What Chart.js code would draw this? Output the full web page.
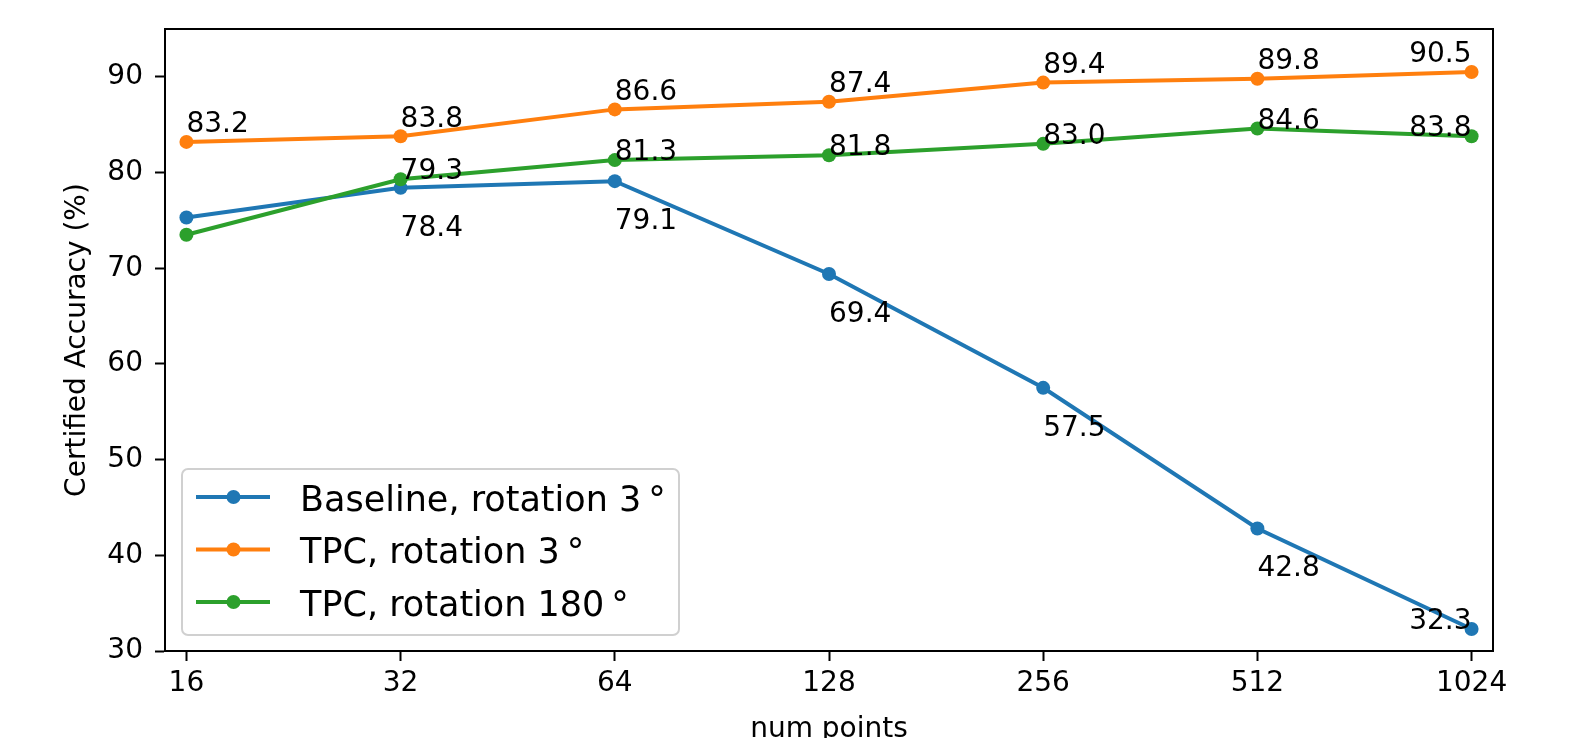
<!DOCTYPE html>
<html>
<head>
<meta charset="utf-8">
<script src="https://cdn.jsdelivr.net/npm/chart.js@4"></script>
<style>
  html, body { margin: 0; padding: 0; background: #fff; }
  canvas { display: block; }
</style>
</head>
<body>
<canvas id="chart" width="1570" height="738"></canvas>
<script>
// data
const numPoints = [16, 32, 64, 128, 256, 512, 1024];
const baselineRot3 = [75.3, 78.4, 79.1, 69.4, 57.5, 42.8, 32.3];
const tpcRot3 = [83.2, 83.8, 86.6, 87.4, 89.4, 89.8, 90.5];
const tpcRot180 = [73.5, 79.3, 81.3, 81.8, 83.0, 84.6, 83.8];
const seriesNames = ['Baseline, rotation 3\u2009°', 'TPC, rotation 3\u2009°', 'TPC, rotation 180\u2009°'];
const yTicks = [30, 40, 50, 60, 70, 80, 90];

const FONT = '"DejaVu Sans", sans-serif';
Chart.defaults.color = '#000';
Chart.defaults.font.family = FONT;

function series(label, data, color, order, labelDy, skipFirst) {
    return {
        label, data, order,
        borderColor: color,
        backgroundColor: color,
        borderWidth: 4,
        pointRadius: 7,
        pointBorderWidth: 0,
        pointHoverRadius: 7,
        tension: 0,
        labelDy, skipFirst
    };
}

// value labels next to the points
const pointLabels = {
    id: 'pointLabels',
    afterDatasetsDraw(chart) {
        const ctx = chart.ctx;
        const yScale = chart.scales.y;
        ctx.save();
        ctx.font = '28px ' + FONT;
        ctx.fillStyle = '#000';
        ctx.textBaseline = 'alphabetic';
        chart.data.datasets.forEach((ds, i) => {
            const meta = chart.getDatasetMeta(i);
            meta.data.forEach((pt, j) => {
                if (j === 0 && ds.skipFirst) return;
                const last = j === ds.data.length - 1;
                let dy = ds.labelDy;
                if (last && ds.data[j] + dy < yScale.min) dy = 0;
                ctx.textAlign = last ? 'right' : 'left';
                ctx.fillText(ds.data[j].toFixed(1), pt.x, yScale.getPixelForValue(ds.data[j] + dy));
            });
        });
        ctx.restore();
    },
    afterDraw(chart) {
        const ctx = chart.ctx;
        const a = chart.chartArea;
        ctx.save();
        // top + right spines
        ctx.strokeStyle = '#000';
        ctx.lineWidth = 2;
        ctx.beginPath();
        ctx.moveTo(a.left, a.top);
        ctx.lineTo(a.right, a.top);
        ctx.lineTo(a.right, a.bottom);
        ctx.stroke();

        // legend, lower left
        const x = a.left + 17, h = 166, y = a.bottom - 16 - h, w = 497;
        ctx.beginPath();
        ctx.roundRect(x, y, w, h, 6);
        ctx.fillStyle = 'rgba(255,255,255,0.8)';
        ctx.fill();
        ctx.strokeStyle = '#d0d0d0';
        ctx.lineWidth = 2;
        ctx.stroke();
        ctx.font = '35px ' + FONT;
        ctx.textAlign = 'left';
        ctx.textBaseline = 'alphabetic';
        chart.data.datasets.forEach((ds, i) => {
            const ry = y + 28 + i * 52.5;
            ctx.strokeStyle = ds.borderColor;
            ctx.lineWidth = 4;
            ctx.beginPath();
            ctx.moveTo(x + 14, ry);
            ctx.lineTo(x + 88, ry);
            ctx.stroke();
            ctx.fillStyle = ds.borderColor;
            ctx.beginPath();
            ctx.arc(x + 51.5, ry, 7, 0, Math.PI * 2);
            ctx.fill();
            ctx.fillStyle = '#000';
            ctx.fillText(ds.label, x + 118, ry + 13.5);
        });
        ctx.restore();
    }
};

new Chart(document.getElementById('chart'), {
    type: 'line',
    data: {
        labels: numPoints,
        datasets: [
            series(seriesNames[0], baselineRot3, '#1f77b4', 2, -5, true),
            series(seriesNames[1], tpcRot3, '#ff7f0e', 1, 1, false),
            series(seriesNames[2], tpcRot180, '#2ca02c', 0, 0, true)
        ]
    },
    options: {
        responsive: false,
        animation: false,
        events: [],
        layout: { padding: { left: 0, right: 77, top: 29, bottom: 0 } },
        plugins: { legend: { display: false }, tooltip: { enabled: false } },
        scales: {
            x: {
                type: 'logarithmic',
                bounds: 'data',
                min: 16 * Math.pow(2, -0.1),
                max: 1024 * Math.pow(2, 0.1),
                afterBuildTicks: s => { s.ticks = numPoints.map(v => ({ value: v })); },
                afterFit: s => { s.height = 87; },
                ticks: {
                    autoSkip: false,
                    maxRotation: 0,
                    padding: 6,
                    font: { size: 28 },
                    callback: v => String(v)
                },
                grid: { drawOnChartArea: false, tickLength: 10, tickWidth: 2, tickColor: '#000' },
                border: { color: '#000', width: 2 },
                title: {
                    display: true,
                    text: 'num points',
                    font: { size: 28 },
                    padding: { top: 0, bottom: -9 }
                }
            },
            y: {
                min: 30,
                max: 95,
                bounds: 'data',
                afterBuildTicks: s => { s.ticks = yTicks.map(v => ({ value: v })); },
                afterFit: s => { s.width = 165; },
                ticks: { padding: 12, font: { size: 28 } },
                grid: { drawOnChartArea: false, tickLength: 10, tickWidth: 2, tickColor: '#000' },
                border: { color: '#000', width: 2 },
                title: {
                    display: true,
                    text: 'Certified Accuracy (%)',
                    font: { size: 28 },
                    padding: { top: 61, bottom: 0 }
                }
            }
        }
    },
    plugins: [pointLabels]
});
</script>
</body>
</html>
